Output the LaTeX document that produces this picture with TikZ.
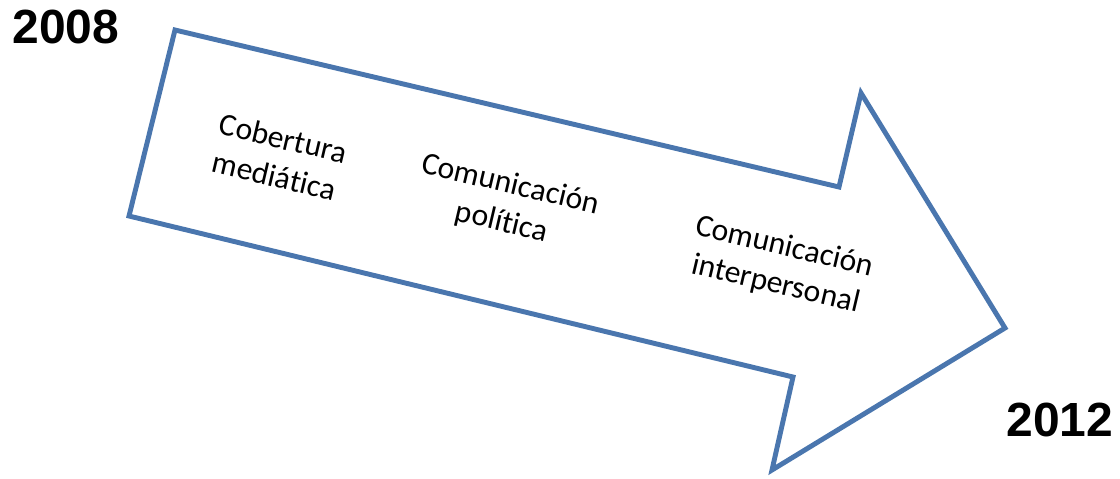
\documentclass[tikz,border=0pt]{standalone}
\usepackage{fontspec}
\setmainfont{Carlito}[Ligatures={NoCommon}]
\newfontfamily\yearfont{Liberation Sans}
\definecolor{arrowblue}{RGB}{74,118,174}
\begin{document}
\begin{tikzpicture}[x=0.02cm,y=-0.02cm,
	stage/.style={align=center,rotate=-13.3,font=\fontsize{18}{22}\selectfont,inner sep=0pt},
	year/.style={font=\yearfont\bfseries\fontsize{27.3}{30}\selectfont,inner sep=0pt}]

	\useasboundingbox (0,0) rectangle (1120,478);

	\draw [color=arrowblue, line width=2.8pt, line join=miter]
		(175,30) -- (839,187) -- (861,93) -- (1005,328) -- (772,470) -- (793,377) -- (129,216) -- cycle;

	\node (cob) [stage] at (279,157) {Cobertura\\mediática};
	\node (pol) [stage] at (506,204) {Comunicación\\política};
	\node (inter) [stage] at (780,266) {Comunicación\\interpersonal};

	\node (y2008) [year] at (66,27) {2008};
	\node (y2012) [year] at (1060,420) {2012};
\end{tikzpicture}
\end{document}
